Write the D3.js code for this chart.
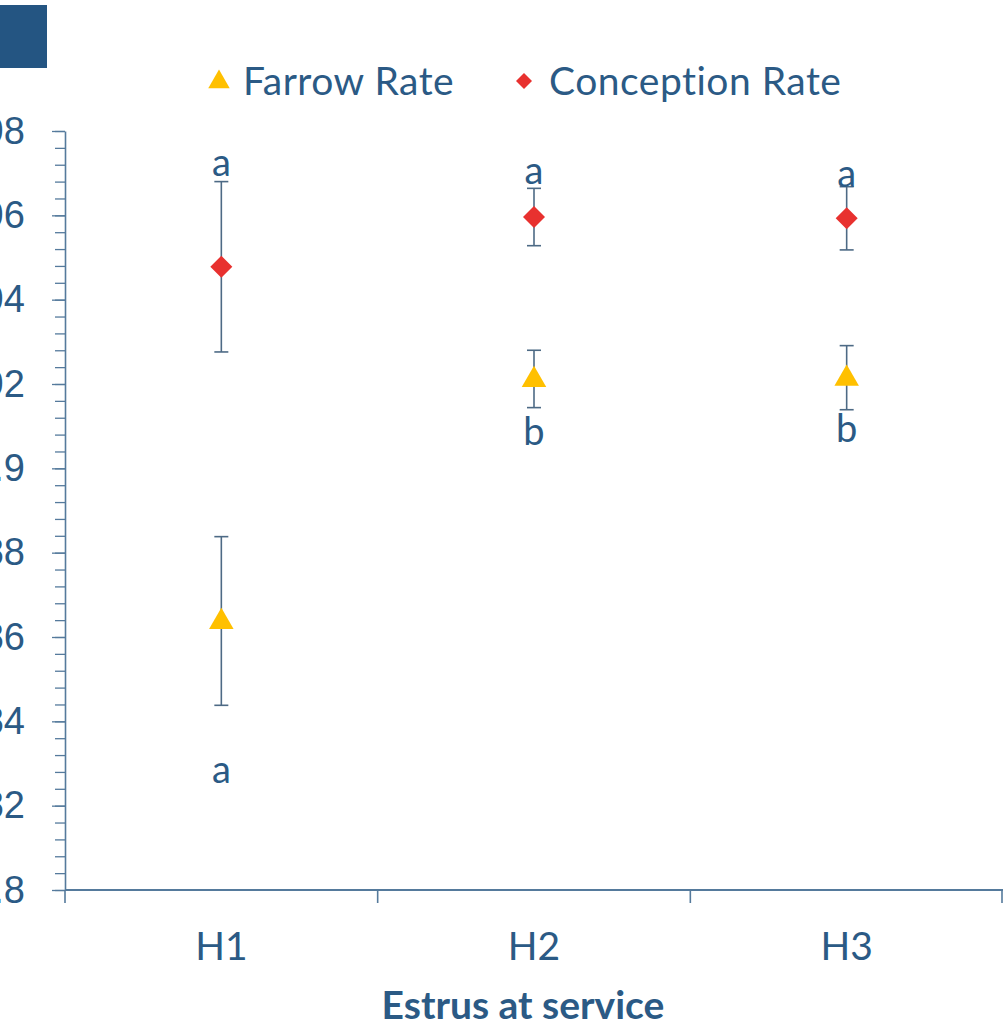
<!DOCTYPE html>
<html>
<head>
<meta charset="utf-8">
<script src="https://cdn.jsdelivr.net/npm/d3@7"></script>
<style>
  body { margin: 0; background: #fff; }
  svg { display: block; font-family: Lato, "Open Sans", sans-serif; }
</style>
</head>
<body>
<svg></svg>
<script>
let width = 1003, height = 1026;

// Data
const groups = ["H1", "H2", "H3"];
const farrowRate = [0.8638, 0.9212, 0.9215];
const farrowErr = [0.0200, 0.0068, 0.0076];
const conceptionRate = [0.9478, 0.9596, 0.9593];
const conceptionErr = [0.0202, 0.0068, 0.0075];
const farrowLetters = ["a", "b", "b"];
const farrowLetterAt = [0.8286, 0.9088, 0.9093];
const conceptionLetters = ["a", "a", "a"];
const conceptionLetterAt = [0.9725, 0.9706, 0.9699];

const textColor = "#2b5a85";
const axisColor = "#557a9c";

let svg = d3.select("svg")
    .attr("width", width)
    .attr("height", height);

// plot area
let margin = {left: 65, right: 0, top: 131, bottom: 136};

let x = d3.scaleBand()
    .domain(groups)
    .range([margin.left, width - margin.right]);

let y = d3.scaleLinear()
    .domain([0.8, 0.98])
    .range([height - margin.bottom, margin.top]);

// dark header block in the corner
svg.append("rect")
    .attr("x", 0).attr("y", 5)
    .attr("width", 47).attr("height", 63)
    .attr("fill", "#245582");

// minor y ticks
let minorTicks = d3.range(0.8, 0.98001, 0.004);
svg.append("g")
    .attr("transform", "translate(" + margin.left + ",0)")
    .call(d3.axisLeft(y).tickValues(minorTicks).tickSize(10).tickFormat(""))
    .call(g => g.select(".domain").remove())
    .selectAll("line").attr("stroke", axisColor).attr("stroke-width", 1.3);

// major y ticks + labels
let yAxis = svg.append("g")
    .attr("transform", "translate(" + margin.left + ",0)")
    .call(d3.axisLeft(y)
        .tickValues(d3.range(0.8, 0.98001, 0.02))
        .tickSize(13)
        .tickSizeOuter(0)
        .tickPadding(27)
        .tickFormat(d => String(+d.toFixed(2))));
yAxis.select(".domain").attr("stroke", axisColor).attr("stroke-width", 1.6);
yAxis.selectAll("line").attr("stroke", axisColor).attr("stroke-width", 1.3);
yAxis.selectAll("text")
    .attr("fill", textColor)
    .style("font-size", "38px");

// x axis with boundary ticks
let xAxis = svg.append("g")
    .attr("transform", "translate(0," + (height - margin.bottom) + ")");
xAxis.append("line")
    .attr("x1", margin.left).attr("x2", width)
    .attr("stroke", axisColor).attr("stroke-width", 2.2);
let bounds = groups.map(g => x(g)).concat([x(groups[groups.length - 1]) + x.bandwidth()]);
xAxis.selectAll(".bt")
    .data(bounds)
    .enter().append("line")
    .attr("x1", d => Math.min(d, width - 1)).attr("x2", d => Math.min(d, width - 1))
    .attr("y1", 0).attr("y2", 13)
    .attr("stroke", axisColor).attr("stroke-width", 1.6);
xAxis.selectAll("text")
    .data(groups)
    .enter().append("text")
    .attr("x", d => x(d) + x.bandwidth() / 2)
    .attr("y", 70)
    .attr("text-anchor", "middle")
    .attr("fill", textColor)
    .style("font-size", "39px")
    .text(d => d);

svg.append("text")
    .attr("x", (margin.left + width) / 2 - 11)
    .attr("y", 1019)
    .attr("text-anchor", "middle")
    .attr("fill", textColor)
    .style("font-size", "39px")
    .style("font-weight", "bold")
    .text("Estrus at service");

// error bars
function errorBars(values, errs) {
    let g = svg.append("g");
    groups.forEach((grp, i) => {
        let cx = x(grp) + x.bandwidth() / 2;
        let top = y(values[i] + errs[i]), bot = y(values[i] - errs[i]);
        g.append("line").attr("x1", cx).attr("x2", cx).attr("y1", top).attr("y2", bot);
        g.append("line").attr("x1", cx - 7).attr("x2", cx + 7).attr("y1", top).attr("y2", top);
        g.append("line").attr("x1", cx - 7).attr("x2", cx + 7).attr("y1", bot).attr("y2", bot);
    });
    g.selectAll("line").attr("stroke", "#4d6a85").attr("stroke-width", 1.6);
}
errorBars(conceptionRate, conceptionErr);
errorBars(farrowRate, farrowErr);

let triangle = d3.symbol().type(d3.symbolTriangle).size(260);
let diamond = "M0,-11L11,0L0,11L-11,0Z";

svg.append("g").selectAll("path")
    .data(conceptionRate)
    .enter().append("path")
    .attr("d", diamond)
    .attr("transform", (d, i) => "translate(" + (x(groups[i]) + x.bandwidth() / 2) + "," + y(d) + ")")
    .attr("fill", "#e8312f");

svg.append("g").selectAll("path")
    .data(farrowRate)
    .enter().append("path")
    .attr("d", triangle)
    .attr("transform", (d, i) => "translate(" + (x(groups[i]) + x.bandwidth() / 2) + "," + (y(d) + 1) + ")")
    .attr("fill", "#ffc000");

// significance letters
function letters(labels, at) {
    svg.append("g").selectAll("text")
        .data(labels)
        .enter().append("text")
        .attr("x", (d, i) => x(groups[i]) + x.bandwidth() / 2)
        .attr("y", (d, i) => y(at[i]))
        .attr("dy", "0.35em")
        .attr("text-anchor", "middle")
        .attr("fill", textColor)
        .style("font-size", "38px")
        .text(d => d);
}
letters(conceptionLetters, conceptionLetterAt);
letters(farrowLetters, farrowLetterAt);

// legend
let legend = svg.append("g").attr("transform", "translate(0,81)");
legend.append("path")
    .attr("d", d3.symbol().type(d3.symbolTriangle).size(200))
    .attr("transform", "translate(219,1)")
    .attr("fill", "#ffc000");
legend.append("text")
    .attr("x", 243).attr("dy", "0.35em")
    .attr("fill", textColor).style("font-size", "39px")
    .style("letter-spacing", "0.5px")
    .text("Farrow Rate");
legend.append("path")
    .attr("d", "M0,-8L8,0L0,8L-8,0Z")
    .attr("transform", "translate(524,0)")
    .attr("fill", "#e8312f");
legend.append("text")
    .attr("x", 549).attr("dy", "0.35em")
    .attr("fill", textColor).style("font-size", "39px")
    .style("letter-spacing", "0.5px")
    .text("Conception Rate");
</script>
</body>
</html>
